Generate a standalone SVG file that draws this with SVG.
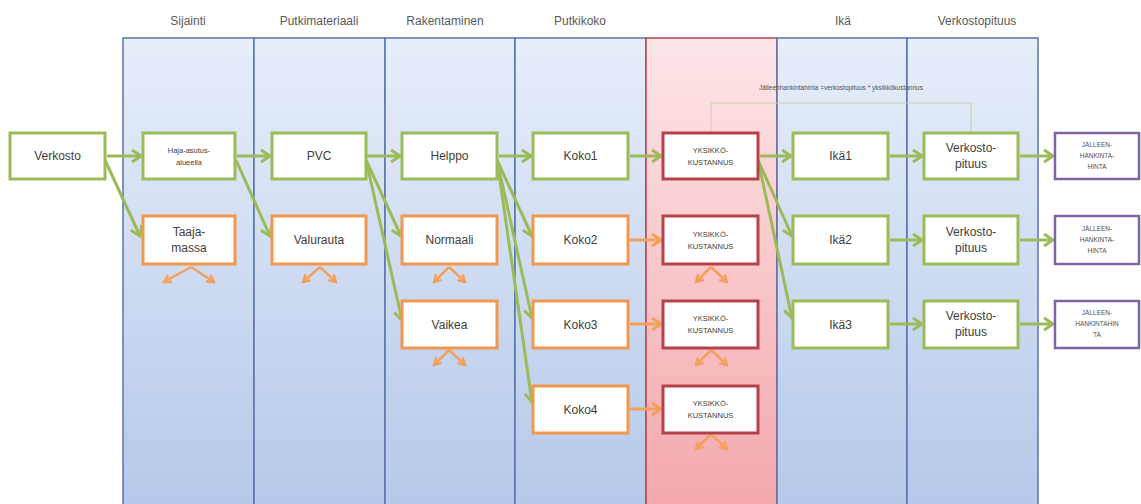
<svg xmlns="http://www.w3.org/2000/svg" width="1141" height="504" viewBox="0 0 1141 504">
<style>
.hdr{font-family:"Liberation Sans",Arial,sans-serif;font-size:12px;fill:#5a5a5a;text-anchor:middle}
.t{font-family:"Liberation Sans",Arial,sans-serif;font-size:12px;fill:#404040;text-anchor:middle}
.ts{font-family:"Liberation Sans",Arial,sans-serif;font-size:7.5px;fill:#404040;text-anchor:middle}
.tx{font-family:"Liberation Sans",Arial,sans-serif;font-size:6.5px;fill:#505050;text-anchor:middle}
.lane{fill:url(#gBlue);stroke:#5a73ad;stroke-width:1.5}
.laneR{fill:url(#gRed);stroke:#b8434c;stroke-width:1.5}
.g{fill:#fff;stroke:#9bbb59;stroke-width:3}
.o{fill:#fff;stroke:#f2974f;stroke-width:3}
.r{fill:#fff;stroke:#b5424a;stroke-width:3}
.p{fill:#fff;stroke:#8064a2;stroke-width:2.5}
.ag{stroke:#9bbb59;stroke-width:3;fill:none;marker-end:url(#mg)}
.ao{stroke:#f5a05a;stroke-width:3;fill:none;marker-end:url(#mo)}
.af{stroke:#f5a05a;stroke-width:2.5;fill:none;marker-end:url(#mf)}
</style>
<defs>
<linearGradient id="gBlue" x1="0" y1="0" x2="0" y2="1">
<stop offset="0" stop-color="#e7eefa"/><stop offset="1" stop-color="#b5c8e9"/>
</linearGradient>
<linearGradient id="gRed" x1="0" y1="0" x2="0" y2="1">
<stop offset="0" stop-color="#fde6e8"/><stop offset="1" stop-color="#f3a7ad"/>
</linearGradient>
<marker id="mg" markerUnits="userSpaceOnUse" markerWidth="12" markerHeight="14" refX="10" refY="7" orient="auto">
<path d="M1,1 L10,7 L1,13" fill="none" stroke="#9bbb59" stroke-width="3"/>
</marker>
<marker id="mo" markerUnits="userSpaceOnUse" markerWidth="12" markerHeight="14" refX="10" refY="7" orient="auto">
<path d="M1,1 L10,7 L1,13" fill="none" stroke="#f5a05a" stroke-width="3"/>
</marker>
<marker id="mf" markerUnits="userSpaceOnUse" markerWidth="10" markerHeight="10" refX="8" refY="5" orient="auto">
<path d="M1,1 L8,5 L1,9" fill="none" stroke="#f5a05a" stroke-width="2.5"/>
</marker>
</defs>
<rect width="1141" height="504" fill="#fff"/>
<g id="lanes">
<rect class="lane" x="123" y="38" width="131" height="470"/>
<rect class="lane" x="254" y="38" width="131" height="470"/>
<rect class="lane" x="385" y="38" width="130" height="470"/>
<rect class="lane" x="515" y="38" width="131" height="470"/>
<rect class="laneR" x="646" y="38" width="131" height="470"/>
<rect class="lane" x="777" y="38" width="130" height="470"/>
<rect class="lane" x="907" y="38" width="131" height="470"/>
</g>
<g id="headers">
<text class="hdr" x="188" y="25">Sijainti</text>
<text class="hdr" x="319" y="25">Putkimateriaali</text>
<text class="hdr" x="445" y="25">Rakentaminen</text>
<text class="hdr" x="580" y="25">Putkikoko</text>
<text class="hdr" x="843" y="25">Ikä</text>
<text class="hdr" x="977" y="25">Verkostopituus</text>
</g>
<g id="formula">
<polyline points="711,133 711,103 971,103 971,133" fill="none" stroke="#c5d0a5" stroke-width="1"/>
<text class="tx" x="841" y="90">Jälleenhankintahinta =verkostopituus * yksikkökustannus</text>
</g>
<g id="connectors">
<line class="ag" x1="107" y1="156" x2="141" y2="156"/>
<line class="ag" x1="237" y1="156" x2="270" y2="156"/>
<line class="ag" x1="367" y1="156" x2="400" y2="156"/>
<line class="ag" x1="499" y1="156" x2="531" y2="156"/>
<line class="ag" x1="630" y1="156" x2="661" y2="156"/>
<line class="ag" x1="760" y1="156" x2="791" y2="156"/>
<line class="ag" x1="890" y1="156" x2="922" y2="156"/>
<line class="ag" x1="1020" y1="156" x2="1053" y2="156"/>
<line class="ag" x1="890" y1="240" x2="922" y2="240"/>
<line class="ag" x1="1020" y1="240" x2="1053" y2="240"/>
<line class="ag" x1="890" y1="324" x2="922" y2="324"/>
<line class="ag" x1="1020" y1="324" x2="1053" y2="324"/>
<line class="ag" x1="105" y1="160" x2="140" y2="236"/>
<line class="ag" x1="236" y1="160" x2="270" y2="236"/>
<line class="ag" x1="366" y1="160" x2="401" y2="236"/>
<line class="ag" x1="366" y1="160" x2="402" y2="320"/>
<line class="ag" x1="497" y1="160" x2="532" y2="236"/>
<line class="ag" x1="497" y1="160" x2="532" y2="318"/>
<line class="ag" x1="497" y1="160" x2="532" y2="402"/>
<line class="ag" x1="758" y1="160" x2="792" y2="236"/>
<line class="ag" x1="758" y1="160" x2="792" y2="318"/>
<line class="ao" x1="630" y1="240" x2="661" y2="240"/>
<line class="ao" x1="630" y1="324" x2="661" y2="324"/>
<line class="ao" x1="630" y1="409" x2="661" y2="409"/>
<g id="forks">
<line class="af" x1="191" y1="267" x2="164" y2="282"/><line class="af" x1="191" y1="267" x2="214" y2="282"/>
<line class="af" x1="320" y1="267" x2="303" y2="282"/><line class="af" x1="320" y1="267" x2="336" y2="282"/>
<line class="af" x1="449" y1="267" x2="434" y2="282"/><line class="af" x1="449" y1="267" x2="465" y2="282"/>
<line class="af" x1="449" y1="350" x2="434" y2="365"/><line class="af" x1="449" y1="350" x2="465" y2="365"/>
<line class="af" x1="711" y1="267" x2="696" y2="282"/><line class="af" x1="711" y1="267" x2="727" y2="282"/>
<line class="af" x1="711" y1="350" x2="696" y2="365"/><line class="af" x1="711" y1="350" x2="727" y2="365"/>
<line class="af" x1="711" y1="434" x2="696" y2="449"/><line class="af" x1="711" y1="434" x2="727" y2="449"/>
</g>
</g>
<g id="n-verkosto"><rect class="g" x="10" y="133" width="95" height="46"/><text class="t" x="57.5" y="160">Verkosto</text></g>
<g id="n-haja"><rect class="g" x="143" y="133" width="92" height="46"/><text class="ts" x="189" y="153">Haja-asutus-</text><text class="ts" x="189" y="165">alueella</text></g>
<g id="n-taaja"><rect class="o" x="143" y="216" width="92" height="48"/><text class="t" x="189" y="236">Taaja-</text><text class="t" x="189" y="252">massa</text></g>
<g id="n-pvc"><rect class="g" x="272" y="133" width="94" height="46"/><text class="t" x="319" y="160">PVC</text></g>
<g id="n-valurauta"><rect class="o" x="272" y="216" width="94" height="48"/><text class="t" x="319" y="244">Valurauta</text></g>
<g id="n-helppo"><rect class="g" x="402" y="133" width="95" height="46"/><text class="t" x="449.5" y="160">Helppo</text></g>
<g id="n-normaali"><rect class="o" x="402" y="216" width="95" height="48"/><text class="t" x="449.5" y="244">Normaali</text></g>
<g id="n-vaikea"><rect class="o" x="402" y="301" width="95" height="47"/><text class="t" x="449.5" y="329">Vaikea</text></g>
<g id="n-koko1"><rect class="g" x="533" y="133" width="95" height="46"/><text class="t" x="580.5" y="160">Koko1</text></g>
<g id="n-koko2"><rect class="o" x="533" y="216" width="95" height="48"/><text class="t" x="580.5" y="244">Koko2</text></g>
<g id="n-koko3"><rect class="o" x="533" y="301" width="95" height="47"/><text class="t" x="580.5" y="329">Koko3</text></g>
<g id="n-koko4"><rect class="o" x="533" y="386" width="95" height="47"/><text class="t" x="580.5" y="414">Koko4</text></g>
<g id="n-yks1"><rect class="r" x="663" y="133" width="95" height="46"/><text class="ts" x="710.5" y="153">YKSIKKÖ-</text><text class="ts" x="710.5" y="165">KUSTANNUS</text></g>
<g id="n-yks2"><rect class="r" x="663" y="216" width="95" height="48"/><text class="ts" x="710.5" y="237">YKSIKKÖ-</text><text class="ts" x="710.5" y="249">KUSTANNUS</text></g>
<g id="n-yks3"><rect class="r" x="663" y="301" width="95" height="47"/><text class="ts" x="710.5" y="321">YKSIKKÖ-</text><text class="ts" x="710.5" y="333">KUSTANNUS</text></g>
<g id="n-yks4"><rect class="r" x="663" y="386" width="95" height="47"/><text class="ts" x="710.5" y="406">YKSIKKÖ-</text><text class="ts" x="710.5" y="418">KUSTANNUS</text></g>
<g id="n-ika1"><rect class="g" x="793" y="133" width="95" height="46"/><text class="t" x="840.5" y="160">Ikä1</text></g>
<g id="n-ika2"><rect class="g" x="793" y="216" width="95" height="48"/><text class="t" x="840.5" y="244">Ikä2</text></g>
<g id="n-ika3"><rect class="g" x="793" y="301" width="95" height="47"/><text class="t" x="840.5" y="329">Ikä3</text></g>
<g id="n-verk1"><rect class="g" x="924" y="133" width="94" height="46"/><text class="t" x="971" y="152">Verkosto-</text><text class="t" x="971" y="168">pituus</text></g>
<g id="n-verk2"><rect class="g" x="924" y="216" width="94" height="48"/><text class="t" x="971" y="236">Verkosto-</text><text class="t" x="971" y="252">pituus</text></g>
<g id="n-verk3"><rect class="g" x="924" y="301" width="94" height="47"/><text class="t" x="971" y="320">Verkosto-</text><text class="t" x="971" y="336">pituus</text></g>
<g id="n-jal1"><rect class="p" x="1055" y="133" width="84" height="46"/><text class="tx" x="1097" y="147">JÄLLEEN-</text><text class="tx" x="1097" y="158">HANKINTA-</text><text class="tx" x="1097" y="169">HINTA</text></g>
<g id="n-jal2"><rect class="p" x="1055" y="216" width="84" height="48"/><text class="tx" x="1097" y="231">JÄLLEEN-</text><text class="tx" x="1097" y="242">HANKINTA-</text><text class="tx" x="1097" y="253">HINTA</text></g>
<g id="n-jal3"><rect class="p" x="1055" y="301" width="84" height="47"/><text class="tx" x="1097" y="315">JÄLLEEN-</text><text class="tx" x="1097" y="326">HANKINTAHIN</text><text class="tx" x="1097" y="337">TA</text></g>
</svg>
